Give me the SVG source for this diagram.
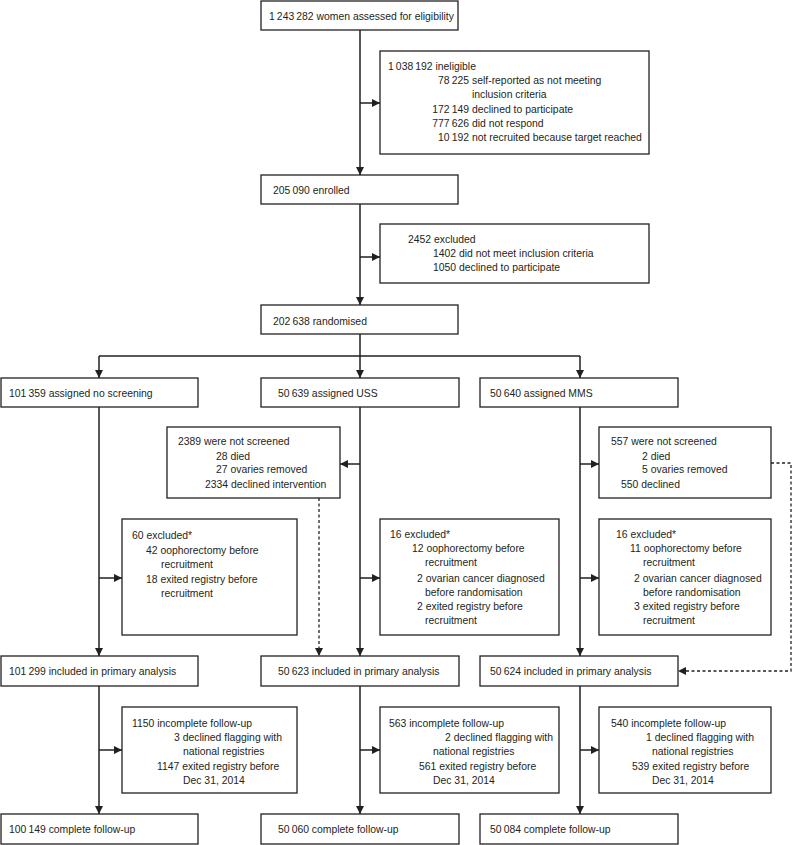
<svg xmlns="http://www.w3.org/2000/svg" width="793" height="845" viewBox="0 0 793 845">
<style>
.box{fill:#fff;stroke:#231f20;stroke-width:1.3}
.ln{fill:none;stroke:#231f20;stroke-width:1.5}
.dash{fill:none;stroke:#231f20;stroke-width:1.3;stroke-dasharray:3,2.5}
text{font-family:"Liberation Sans",Arial,sans-serif;font-size:10.4px;fill:#231f20}
</style>
<defs>
<marker id="ah" viewBox="0 0 10 10" refX="10" refY="5" markerWidth="8" markerHeight="8" markerUnits="userSpaceOnUse" orient="auto">
<path d="M0,0 L10,5 L0,10 Z" fill="#231f20"/>
</marker>
</defs>
<rect width="793" height="845" fill="#fff"/>
<g id="connectors">
<path class="ln" d="M360,30 V175" marker-end="url(#ah)"/>
<path class="ln" d="M360,103 H380" marker-end="url(#ah)"/>
<path class="ln" d="M360,204 V305" marker-end="url(#ah)"/>
<path class="ln" d="M360,257 H380" marker-end="url(#ah)"/>
<path class="ln" d="M360,334 V378" marker-end="url(#ah)"/>
<path class="ln" d="M99,356 H580"/>
<path class="ln" d="M99,356 V378" marker-end="url(#ah)"/>
<path class="ln" d="M580,356 V378" marker-end="url(#ah)"/>
<path class="ln" d="M99,407 V656" marker-end="url(#ah)"/>
<path class="ln" d="M99,578 H122" marker-end="url(#ah)"/>
<path class="ln" d="M360,407 V656" marker-end="url(#ah)"/>
<path class="ln" d="M360,464 H340" marker-end="url(#ah)"/>
<path class="ln" d="M360,578 H380" marker-end="url(#ah)"/>
<path class="ln" d="M580,407 V656" marker-end="url(#ah)"/>
<path class="ln" d="M580,464 H599" marker-end="url(#ah)"/>
<path class="ln" d="M580,578 H599" marker-end="url(#ah)"/>
<path class="dash" d="M319,498 V656" marker-end="url(#ah)"/>
<path class="dash" d="M771,463 H791 V671 H678" marker-end="url(#ah)"/>
<path class="ln" d="M99,686 V814" marker-end="url(#ah)"/>
<path class="ln" d="M99,750 H122" marker-end="url(#ah)"/>
<path class="ln" d="M360,686 V814" marker-end="url(#ah)"/>
<path class="ln" d="M360,750 H380" marker-end="url(#ah)"/>
<path class="ln" d="M580,686 V814" marker-end="url(#ah)"/>
<path class="ln" d="M580,750 H599" marker-end="url(#ah)"/>
</g>
<g id="assessed">
<rect class="box" x="261" y="1" width="197" height="29"/>
<text x="269" y="19.5">1&#8201;243&#8201;282 women assessed for eligibility</text>
</g>
<g id="ineligible">
<rect class="box" x="380" y="51" width="269" height="103"/>
<text x="388" y="70">1&#8201;038&#8201;192 ineligible</text>
<text x="469" y="84" text-anchor="end">78&#8201;225</text>
<text x="472" y="84">self-reported as not meeting</text>
<text x="472" y="98">inclusion criteria</text>
<text x="469" y="113" text-anchor="end">172&#8201;149</text>
<text x="472" y="113">declined to participate</text>
<text x="469" y="127" text-anchor="end">777&#8201;626</text>
<text x="472" y="127">did not respond</text>
<text x="469" y="141" text-anchor="end">10&#8201;192</text>
<text x="472" y="141">not recruited because target reached</text>
</g>
<g id="enrolled">
<rect class="box" x="261" y="175" width="197" height="29"/>
<text x="273" y="193.5">205&#8201;090 enrolled</text>
</g>
<g id="excluded">
<rect class="box" x="380" y="224" width="269" height="59"/>
<text x="408" y="243">2452 excluded</text>
<text x="433" y="257">1402 did not meet inclusion criteria</text>
<text x="433" y="271">1050 declined to participate</text>
</g>
<g id="randomised">
<rect class="box" x="261" y="305" width="197" height="29"/>
<text x="273" y="324.5">202&#8201;638 randomised</text>
</g>
<g id="no-screening">
<rect class="box" x="1" y="378" width="197" height="29"/>
<text x="9" y="396.5">101&#8201;359 assigned no screening</text>
</g>
<g id="uss">
<rect class="box" x="261" y="378" width="198" height="29"/>
<text x="278" y="396.5">50&#8201;639 assigned USS</text>
</g>
<g id="mms">
<rect class="box" x="480" y="378" width="198" height="29"/>
<text x="490" y="396.5">50&#8201;640 assigned MMS</text>
</g>
<g id="uss-not-screened">
<rect class="box" x="167" y="427" width="173" height="71"/>
<text x="178" y="445">2389 were not screened</text>
<text x="216" y="460">28 died</text>
<text x="216" y="473">27 ovaries removed</text>
<text x="205" y="488">2334 declined intervention</text>
</g>
<g id="mms-not-screened">
<rect class="box" x="599" y="427" width="172" height="71"/>
<text x="611" y="445">557 were not screened</text>
<text x="642" y="460">2 died</text>
<text x="642" y="473">5 ovaries removed</text>
<text x="621" y="488">550 declined</text>
</g>
<g id="ns-excluded">
<rect class="box" x="122" y="519" width="175" height="116"/>
<text x="132" y="539">60 excluded*</text>
<text x="146" y="554">42 oophorectomy before</text>
<text x="161" y="568">recruitment</text>
<text x="146" y="583">18 exited registry before</text>
<text x="161" y="597">recruitment</text>
</g>
<g id="uss-excluded">
<rect class="box" x="380" y="519" width="179" height="116"/>
<text x="390" y="538">16 excluded*</text>
<text x="412" y="552">12 oophorectomy before</text>
<text x="425" y="566">recruitment</text>
<text x="417" y="582">2 ovarian cancer diagnosed</text>
<text x="425" y="596">before randomisation</text>
<text x="417" y="610">2 exited registry before</text>
<text x="425" y="624">recruitment</text>
</g>
<g id="mms-excluded">
<rect class="box" x="599" y="519" width="172" height="116"/>
<text x="616" y="538">16 excluded*</text>
<text x="630" y="552">11 oophorectomy before</text>
<text x="643" y="566">recruitment</text>
<text x="634" y="582">2 ovarian cancer diagnosed</text>
<text x="643" y="596">before randomisation</text>
<text x="634" y="610">3 exited registry before</text>
<text x="643" y="624">recruitment</text>
</g>
<g id="ns-included">
<rect class="box" x="1" y="656" width="197" height="30"/>
<text x="9" y="674.5">101&#8201;299 included in primary analysis</text>
</g>
<g id="uss-included">
<rect class="box" x="261" y="656" width="198" height="30"/>
<text x="278" y="674.5">50&#8201;623 included in primary analysis</text>
</g>
<g id="mms-included">
<rect class="box" x="480" y="656" width="198" height="30"/>
<text x="490" y="674.5">50&#8201;624 included in primary analysis</text>
</g>
<g id="ns-incomplete">
<rect class="box" x="122" y="707" width="175" height="86"/>
<text x="132" y="727">1150 incomplete follow-up</text>
<text x="174" y="741">3 declined flagging with</text>
<text x="183" y="755">national registries</text>
<text x="157" y="770">1147 exited registry before</text>
<text x="183" y="784">Dec 31, 2014</text>
</g>
<g id="uss-incomplete">
<rect class="box" x="380" y="707" width="179" height="86"/>
<text x="389" y="727">563 incomplete follow-up</text>
<text x="445" y="741">2 declined flagging with</text>
<text x="433" y="755">national registries</text>
<text x="419" y="770">561 exited registry before</text>
<text x="433" y="784">Dec 31, 2014</text>
</g>
<g id="mms-incomplete">
<rect class="box" x="599" y="707" width="172" height="86"/>
<text x="611" y="727">540 incomplete follow-up</text>
<text x="646" y="741">1 declined flagging with</text>
<text x="652" y="755">national registries</text>
<text x="632" y="770">539 exited registry before</text>
<text x="652" y="784">Dec 31, 2014</text>
</g>
<g id="ns-complete">
<rect class="box" x="1" y="814" width="197" height="30"/>
<text x="9" y="832.5">100&#8201;149 complete follow-up</text>
</g>
<g id="uss-complete">
<rect class="box" x="261" y="814" width="198" height="30"/>
<text x="278" y="832.5">50&#8201;060 complete follow-up</text>
</g>
<g id="mms-complete">
<rect class="box" x="480" y="814" width="198" height="30"/>
<text x="490" y="832.5">50&#8201;084 complete follow-up</text>
</g>
</svg>
